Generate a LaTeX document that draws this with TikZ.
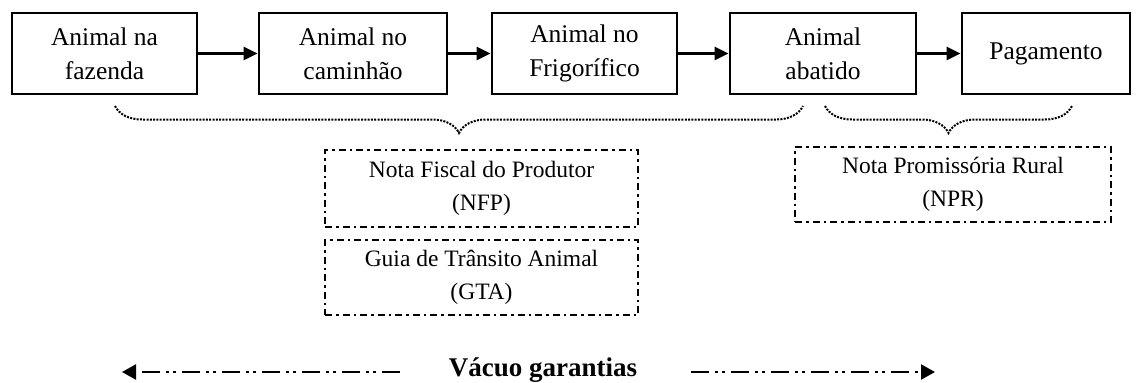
\documentclass[tikz,border=0pt]{standalone}
\usepackage{fontspec}
\setmainfont{Liberation Serif}
\usetikzlibrary{arrows.meta,decorations.pathreplacing}
\tikzset{
  stagebox/.style={draw, line width=2.8pt, rectangle, align=center, inner sep=0pt,
    font=\fontsize{25.5}{34}\selectfont, minimum height=81pt},
  docbox/.style={draw, line width=2.4pt, rectangle, align=center, inner sep=0pt,
    dash pattern=on 7pt off 4pt on 2.5pt off 4pt,
    font=\fontsize{23.5}{33}\selectfont},
  flowarrow/.style={line width=2.6pt, -{Triangle[length=14pt,width=13pt]}},
  bracedots/.style={line width=2pt, dash pattern=on 2pt off 1.3pt,
    decorate, decoration={brace, mirror, amplitude=27pt}},
  vacarrow/.style={line width=2.4pt, dash pattern=on 18pt off 6pt on 3pt off 4pt on 3pt off 6pt,
    -{Triangle[length=14pt,width=15pt]}},
  vaclabel/.style={font=\fontsize{27}{32}\selectfont\bfseries, inner sep=0pt}
}
\begin{document}
\begin{tikzpicture}[x=1pt,y=-1pt]
\useasboundingbox (0,0) rectangle (1136,383);
% stage boxes
\node[stagebox, minimum width=185pt] (b1) at (104.5,53.5) {Animal na\\fazenda};
\node[stagebox, minimum width=188pt] (b2) at (353,53.5) {Animal no\\caminhão};
\node[stagebox, minimum width=185pt] (b3) at (584.5,53.5) {Animal no\\Frigorífico};
\node[stagebox, minimum width=186pt] (b4) at (823,53.5) {Animal\\abatido};
\node[stagebox, minimum width=168pt] (b5) at (1046,53.5) {Pagamento};
% flow arrows
\draw[flowarrow] (b1) -- (b2);
\draw[flowarrow] (b2) -- (b3);
\draw[flowarrow] (b3) -- (b4);
\draw[flowarrow] (b4) -- (b5);
% braces
\coordinate (bl1) at (115,106);
\coordinate (bl2) at (803,106);
\coordinate (br1) at (825,106);
\coordinate (br2) at (1072,106);
\draw[bracedots] (bl1) -- (bl2);
\draw[bracedots] (br1) -- (br2);
% document boxes
\node[docbox, minimum width=313pt, minimum height=77pt] (nfp) at (481.5,188.5) {Nota Fiscal do Produtor\\(NFP)};
\node[docbox, minimum width=313pt, minimum height=75pt] (gta) at (481.5,277.5) {Guia de Trânsito Animal\\(GTA)};
\node[docbox, minimum width=316pt, minimum height=75pt] (npr) at (953,184.5) {Nota Promissória Rural\\(NPR)};
% bottom label with arrows
\node[vaclabel] (vac) at (543,370) {Vácuo garantias};
\coordinate (la) at (400,372);
\coordinate (lb) at (122,372);
\coordinate (ra) at (691,372);
\coordinate (rb) at (935,372);
\draw[vacarrow] (la) -- (lb);
\draw[vacarrow] (ra) -- (rb);
\end{tikzpicture}
\end{document}
